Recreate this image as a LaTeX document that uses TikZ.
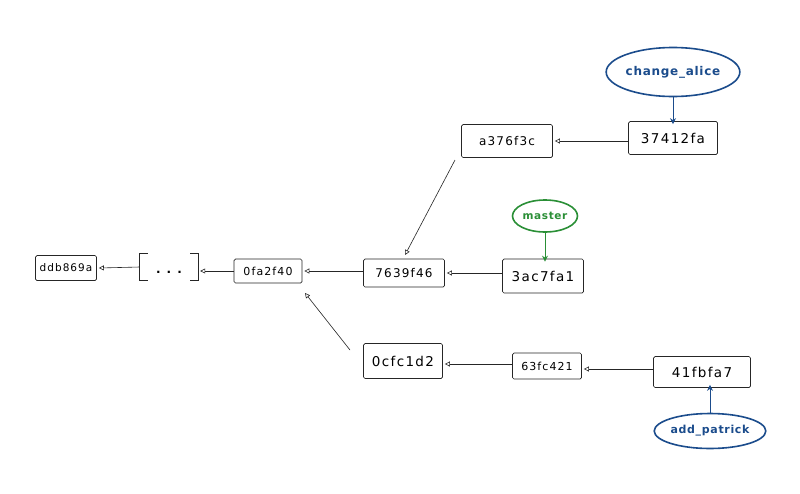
\documentclass[tikz,border=0pt]{standalone}
\usepackage{fontspec}
\setmainfont{DejaVu Sans}
\newfontfamily\handfont[LetterSpace=10]{DejaVu Sans}
\newfontfamily\labelfont[LetterSpace=6]{DejaVu Sans}
\usetikzlibrary{arrows.meta,shapes.geometric}
\definecolor{refblue}{HTML}{1B4C8C}
\definecolor{refgreen}{HTML}{2A8F36}
\begin{document}
\begin{tikzpicture}[x=1pt,y=-1pt,
  commit/.style={draw=black!85,line width=0.7pt,rounded corners=1.5pt,inner sep=0pt,font=\handfont\fontsize{12}{12}\selectfont},
  label/.style={ellipse,line width=1.6pt,inner sep=0pt,font=\labelfont\bfseries\fontsize{12}{14}\selectfont},
  parent/.style={-{Triangle[open,length=5pt,width=5pt]},line width=0.6pt,black!85},
  ref/.style={-{Stealth[length=6pt,width=6pt]},line width=1pt}]
\useasboundingbox (0,0) rectangle (800,493);
\fill[white] (0,0) rectangle (800,493);
\node[commit,minimum width=61pt,minimum height=25pt,font=\handfont\fontsize{10.5}{12}\selectfont] (c1) at (66,268) {ddb869a};
\node[minimum width=58pt,minimum height=26pt,inner sep=0pt] (dots) at (169,267) {};
\node[font=\bfseries\fontsize{12}{12}\selectfont,inner sep=0pt] (dotstext) at (169,272) {.\hspace{6pt}.\hspace{6pt}.};
\draw[line width=0.7pt,black!85] ([xshift=8pt]dots.north west) -- (dots.north west) -- (dots.south west) -- ([xshift=8pt]dots.south west);
\draw[line width=0.7pt,black!85] ([xshift=-8pt]dots.north east) -- (dots.north east) -- (dots.south east) -- ([xshift=-8pt]dots.south east);
\node[commit,minimum width=68pt,minimum height=24pt,font=\handfont\fontsize{11}{12}\selectfont] (c2) at (268,271) {0fa2f40};
\node[commit,minimum width=81pt,minimum height=28pt] (c3) at (404,273) {7639f46};
\node[commit,minimum width=81pt,minimum height=34pt,font=\handfont\fontsize{13.5}{12}\selectfont] (c4) at (543,276) {3ac7fa1};
\node[commit,minimum width=91pt,minimum height=33pt] (a1) at (507,141) {a376f3c};
\node[commit,minimum width=89pt,minimum height=33pt,font=\handfont\fontsize{13.5}{12}\selectfont] (a2) at (673,138) {37412fa};
\node[commit,minimum width=79pt,minimum height=35pt,font=\handfont\fontsize{13.5}{12}\selectfont] (p1) at (403,361) {0cfc1d2};
\node[commit,minimum width=69pt,minimum height=26pt,font=\handfont\fontsize{11}{12}\selectfont] (p2) at (547,366) {63fc421};
\node[commit,minimum width=97pt,minimum height=31pt,font=\handfont\fontsize{13.5}{12}\selectfont] (p3) at (702,372) {41fbfa7};
\node[label,draw=refblue,text=refblue,minimum width=133pt,minimum height=49pt] (alice) at (673,72) {change\_alice};
\node[label,draw=refgreen,text=refgreen,minimum width=65pt,minimum height=32pt,font=\labelfont\bfseries\fontsize{10.5}{12}\selectfont] (master) at (545,216) {master};
\node[label,draw=refblue,text=refblue,minimum width=106pt,minimum height=35pt,font=\labelfont\bfseries\fontsize{11}{12}\selectfont] (patrick) at (710,431) {add\_patrick};
\coordinate (a1out) at (455,160);
\coordinate (c3in) at (405,255);
\coordinate (p1out) at (350,350);
\coordinate (c2in) at (305,293);
\draw[parent] (dots.west) -- ([xshift=2pt]c1.east);
\draw[parent] (c2.west) -- ([xshift=2pt]dots.east |- c2.west);
\draw[parent] (c3.west |- c2.east) -- ([xshift=2pt]c2.east);
\draw[parent] (c4.west |- c3.east) -- ([xshift=2pt]c3.east);
\draw[parent] (a2.west |- a1.east) -- ([xshift=2pt]a1.east);
\draw[parent] (a1out) -- (c3in);
\draw[parent] (p1out) -- (c2in);
\draw[parent] (p2.west |- 0,364) -- ([xshift=2pt]p1.east |- 0,364);
\draw[parent] (p3.west |- 0,369) -- ([xshift=2pt]p2.east |- 0,369);
\draw[ref,refblue] (alice.south) -- ([yshift=-3pt]alice.south |- a2.north);
\draw[ref,refgreen] (master.south) -- ([yshift=-3pt]master.south |- c4.north);
\draw[ref,refblue] (patrick.north) -- ([yshift=3pt]patrick.north |- p3.south);
\end{tikzpicture}
\end{document}
